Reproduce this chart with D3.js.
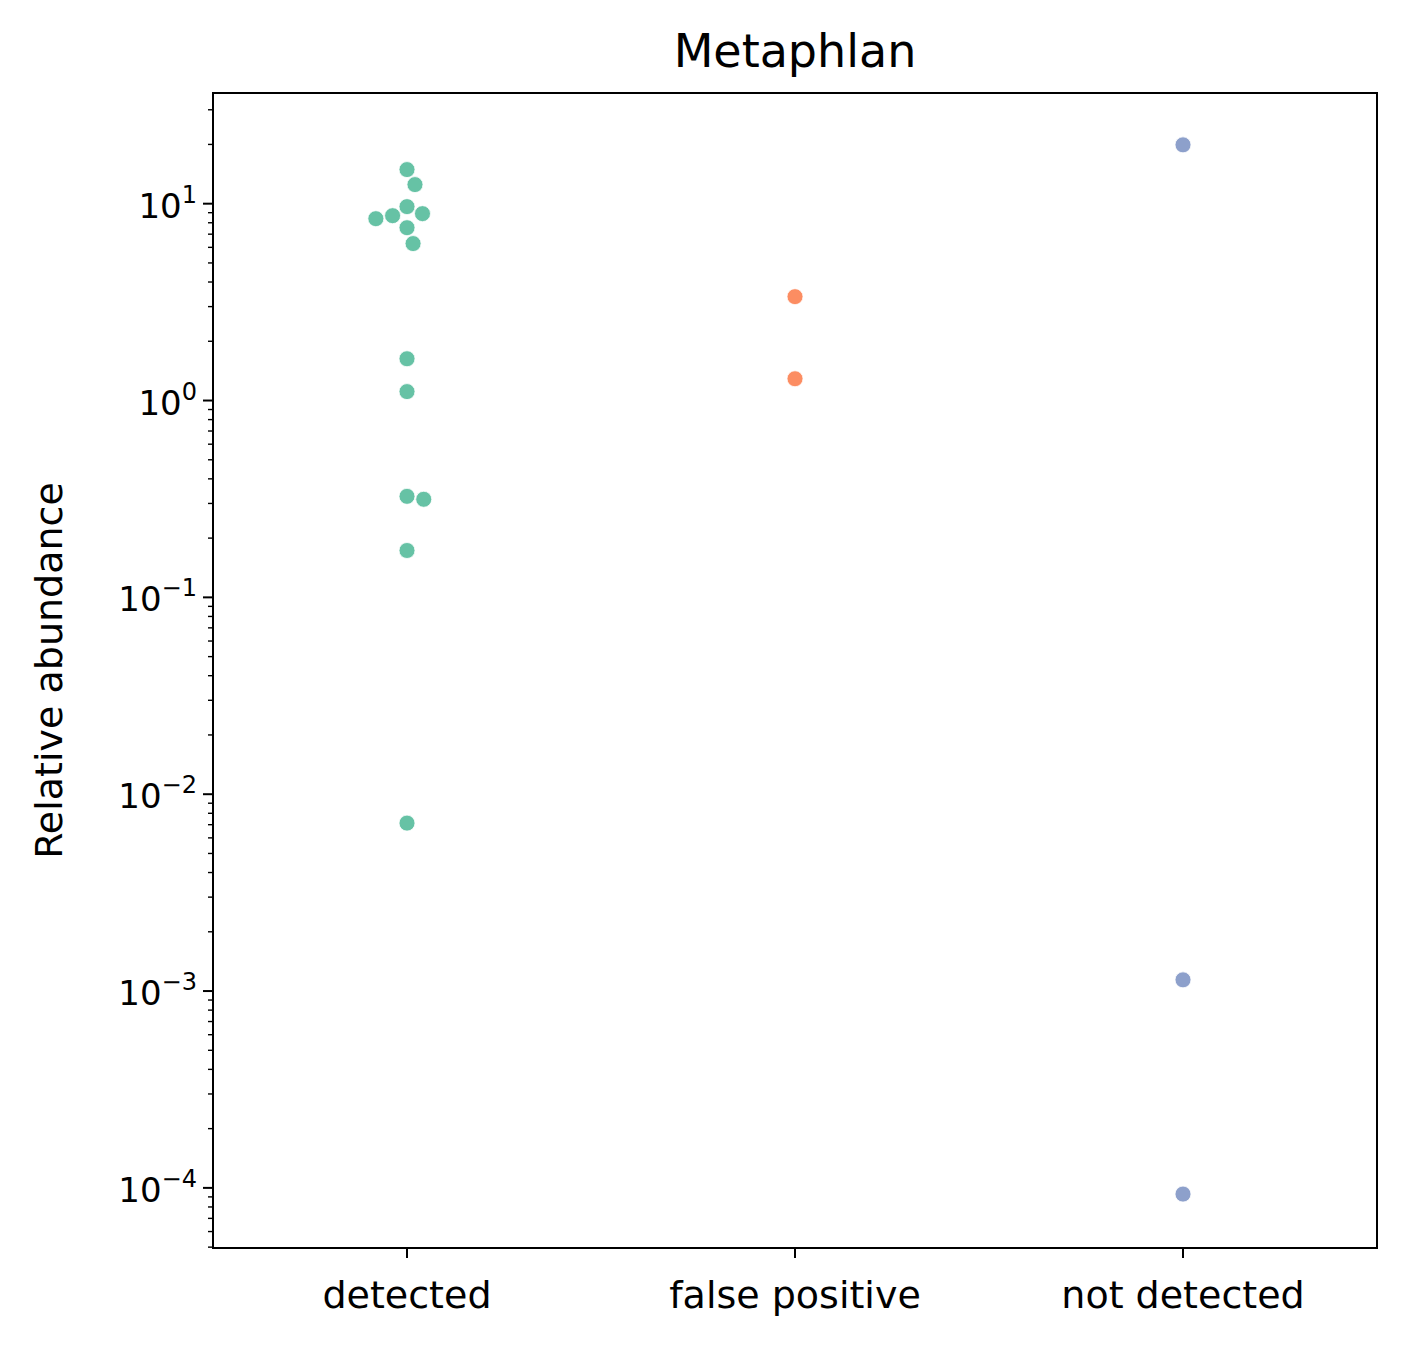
<!DOCTYPE html>
<html><head><meta charset="utf-8">
<script src="https://cdn.jsdelivr.net/npm/d3@7"></script>
<style>body{margin:0;background:#fff;font-family:"DejaVu Sans",sans-serif}</style>
</head><body><div id="chart"></div>
<script>
// data
let categories = ["detected", "false positive", "not detected"]
let colors = ["#66c2a5", "#fc8d62", "#8da0cb"]
let detected = [14.9, 12.5, 9.66, 8.9, 8.69, 8.39, 7.55, 6.27, 1.63, 1.11, 0.326, 0.315, 0.173, 0.00713]
let falsePositive = [3.37, 1.29]
let notDetected = [19.9, 0.00114, 0.000093]
let groups = [detected, falsePositive, notDetected]

let W = 1406, H = 1349
let m = {left: 213, right: 1377, top: 93, bottom: 1248}
let r = 8

let svg = d3.select("#chart").append("svg").attr("width", W).attr("height", H)

let x = d3.scaleBand().domain(categories).range([m.left, m.right])
let y = d3.scaleLog().domain([4.95e-5, 36.5]).range([m.bottom, m.top])

// simple beeswarm: place points closest to center without overlap
function swarm(vals) {
  let pts = vals.map(v => ({v: v, py: y(v)})).sort((a, b) => a.py - b.py)
  let placed = []
  let d = 2 * r + 1
  pts.forEach(p => {
    let cands = [0]
    placed.forEach(q => {
      let dy = p.py - q.py
      if (Math.abs(dy) < d) {
        let dx = Math.sqrt(d * d - dy * dy)
        cands.push(q.dx + dx, q.dx - dx)
      }
    })
    cands.sort((a, b) => Math.abs(a) - Math.abs(b))
    for (let c of cands) {
      let ok = placed.every(q => (q.dx - c) ** 2 + (q.py - p.py) ** 2 >= d * d - 0.01)
      if (ok) { p.dx = c; break }
    }
    placed.push(p)
  })
  return placed
}

// axes frame
svg.append("rect").attr("x", m.left).attr("y", m.top)
   .attr("width", m.right - m.left).attr("height", m.bottom - m.top)
   .attr("fill", "none").attr("stroke", "#000").attr("stroke-width", 2)

// y ticks
let majors = [-4, -3, -2, -1, 0, 1]
let minors = []
for (let e = -5; e <= 1; e++) for (let k = 2; k <= 9; k++) {
  let v = k * Math.pow(10, e)
  if (v >= y.domain()[0] && v <= y.domain()[1]) minors.push(v)
}
minors.forEach(v => {
  svg.append("line").attr("x1", m.left).attr("x2", m.left - 5)
     .attr("y1", y(v)).attr("y2", y(v)).attr("stroke", "#000").attr("stroke-width", 1.4)
})
majors.forEach(e => {
  let yy = y(Math.pow(10, e))
  svg.append("line").attr("x1", m.left).attr("x2", m.left - 10)
     .attr("y1", yy).attr("y2", yy).attr("stroke", "#000").attr("stroke-width", 2)
  let t = svg.append("text").attr("x", m.left - 16).attr("y", yy + 14)
     .attr("text-anchor", "end").attr("font-size", 34)
  t.append("tspan").text("10")
  t.append("tspan").attr("dy", -15).attr("font-size", 24).text(e < 0 ? "\u2212" + (-e) : e)
})

// x ticks
categories.forEach(c => {
  let xx = x(c) + x.bandwidth() / 2
  svg.append("line").attr("x1", xx).attr("x2", xx).attr("y1", m.bottom).attr("y2", m.bottom + 10)
     .attr("stroke", "#000").attr("stroke-width", 2)
  svg.append("text").attr("x", xx).attr("y", m.bottom + 60).attr("text-anchor", "middle")
     .attr("font-size", 38).text(c)
})

// points
groups.forEach((g, i) => {
  let cx = x(categories[i]) + x.bandwidth() / 2
  svg.append("g").selectAll("circle").data(swarm(g)).join("circle")
     .attr("cx", d => cx + d.dx).attr("cy", d => d.py).attr("r", r)
     .attr("fill", colors[i]).attr("stroke", "#fff").attr("stroke-width", 0.8)
})

svg.append("text").attr("x", (m.left + m.right) / 2).attr("y", 67).attr("text-anchor", "middle")
   .attr("font-size", 46).text("Metaphlan")
svg.append("text").attr("transform", `translate(62,${(m.top + m.bottom) / 2}) rotate(-90)`)
   .attr("text-anchor", "middle").attr("font-size", 38).text("Relative abundance")
</script></body></html>
